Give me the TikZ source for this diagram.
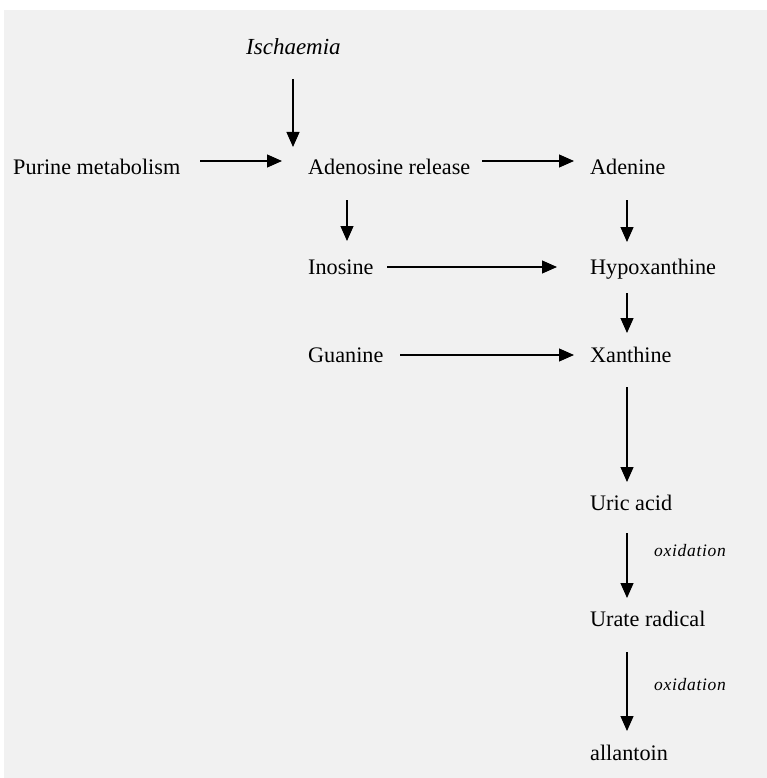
\documentclass[tikz,border=0pt]{standalone}
\usepackage{fontspec}
\setmainfont{Liberation Serif}
\usetikzlibrary{arrows.meta}
\definecolor{paper}{RGB}{241,241,241}
\tikzset{
  lbl/.style={anchor=base west, inner sep=0pt, font=\fontsize{22.2}{25}\selectfont},
  ilbl/.style={anchor=base west, inner sep=0pt, font=\fontsize{23}{26}\selectfont\itshape},
  olbl/.style={anchor=base west, inner sep=0pt, font=\addfontfeatures{LetterSpace=4}\fontsize{17.5}{20}\selectfont\itshape},
  arr/.style={line width=1.2pt, -{Triangle[length=15pt,width=13pt]}}
}
\begin{document}
\begin{tikzpicture}[x=1pt,y=-1pt]
\useasboundingbox (0,0) rectangle (767,778);
\fill[white] (0,0) rectangle (767,778);
\fill[paper] (4,10) rectangle (767,778);
% nodes
\node[ilbl] (isch) at (246,55) {Ischaemia};
\node[lbl] (purine) at (13,175) {Purine metabolism};
\node[lbl] (adenosine) at (308,175) {Adenosine release};
\node[lbl] (adenine) at (590,175) {Adenine};
\node[lbl] (inosine) at (308,274) {Inosine};
\node[lbl] (hypox) at (590,274) {Hypoxanthine};
\node[lbl] (guanine) at (308,362) {Guanine};
\node[lbl] (xanthine) at (590,362) {Xanthine};
\node[lbl] (uric) at (590,510) {Uric acid};
\node[lbl] (urate) at (590,626) {Urate radical};
\node[lbl] (allantoin) at (590,760) {allantoin};
\node[olbl] (ox1) at (654,556) {oxidation};
\node[olbl] (ox2) at (654,690) {oxidation};
% arrow end points
\coordinate (i1) at (293,79);   \coordinate (i2) at (293,147);
\coordinate (p1) at (200,161);  \coordinate (p2) at (282,161);
\coordinate (a1) at (482,161);  \coordinate (a2) at (574,161);
\coordinate (d1) at (347,200);  \coordinate (d2) at (347,241);
\coordinate (n1) at (387,267);  \coordinate (n2) at (557,267);
\coordinate (g1) at (400,355);  \coordinate (g2) at (574,355);
\coordinate (h1) at (627,200);  \coordinate (h2) at (627,242);
\coordinate (x1) at (627,293);  \coordinate (x2) at (627,333);
\coordinate (u1) at (627,387);  \coordinate (u2) at (627,482);
\coordinate (r1) at (627,533);  \coordinate (r2) at (627,598);
\coordinate (l1) at (627,652);  \coordinate (l2) at (627,731);
% connectors
\draw[arr] (i1) -- (i2);
\draw[arr] (p1) -- (p2);
\draw[arr] (a1) -- (a2);
\draw[arr] (d1) -- (d2);
\draw[arr] (n1) -- (n2);
\draw[arr] (g1) -- (g2);
\draw[arr] (h1) -- (h2);
\draw[arr] (x1) -- (x2);
\draw[arr] (u1) -- (u2);
\draw[arr] (r1) -- (r2);
\draw[arr] (l1) -- (l2);
\end{tikzpicture}
\end{document}
